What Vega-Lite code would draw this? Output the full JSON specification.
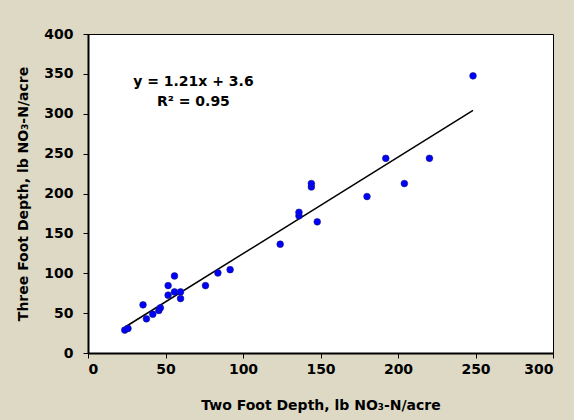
{
  "$schema": "https://vega.github.io/schema/vega-lite/v6.json",
  "width": 465,
  "height": 319,
  "autosize": {"type": "none"},
  "padding": {"left": 88, "top": 34, "right": 21, "bottom": 67},
  "background": "#DDD9C4",
  "config": {
    "view": {"fill": "white", "stroke": "black", "strokeWidth": 1},
    "font": "DejaVu Sans",
    "axis": {
      "grid": false,
      "domainColor": "black",
      "domainWidth": 2,
      "tickColor": "black",
      "tickWidth": 1,
      "tickSize": 5,
      "labelFont": "DejaVu Sans",
      "labelFontSize": 14,
      "labelFontWeight": "bold",
      "labelColor": "black",
      "titleFont": "DejaVu Sans",
      "titleFontSize": 14,
      "titleFontWeight": "bold",
      "titleColor": "black"
    }
  },
  "datasets": {
    "points": [
      {"two": 23.7, "three": 28.7},
      {"two": 25.8, "three": 30.8},
      {"two": 35.5, "three": 60.4},
      {"two": 37.7, "three": 42.9},
      {"two": 41.8, "three": 48.7},
      {"two": 45.7, "three": 53.3},
      {"two": 46.7, "three": 56.6},
      {"two": 51.7, "three": 72.5},
      {"two": 51.7, "three": 84.5},
      {"two": 55.8, "three": 96.6},
      {"two": 55.8, "three": 76.6},
      {"two": 59.7, "three": 76.6},
      {"two": 59.7, "three": 68.3},
      {"two": 75.8, "three": 84.5},
      {"two": 83.8, "three": 100.4},
      {"two": 91.7, "three": 104.5},
      {"two": 124.0, "three": 136.4},
      {"two": 136.1, "three": 172.0},
      {"two": 136.1, "three": 176.4},
      {"two": 144.1, "three": 208.3},
      {"two": 144.1, "three": 212.5},
      {"two": 147.9, "three": 164.5},
      {"two": 180.0, "three": 196.2},
      {"two": 192.1, "three": 244.1},
      {"two": 204.1, "three": 212.5},
      {"two": 220.3, "three": 244.1},
      {"two": 248.4, "three": 347.5}
    ],
    "trend": [
      {"two": 23.7, "three": 32.3},
      {"two": 248.4, "three": 304.2}
    ],
    "labels": [
      {"two": 68, "three": 339.5, "text": "y = 1.21x + 3.6"},
      {"two": 68, "three": 314.5, "text": "R² = 0.95"}
    ]
  },
  "encoding": {
    "x": {
      "field": "two", "type": "quantitative",
      "scale": {"domain": [0, 300], "nice": false, "zero": false},
      "axis": {"values": [0, 50, 100, 150, 200, 250, 300], "labelOverlap": false, "labelPadding": 4, "titlePadding": 22, "title": "Two Foot Depth, lb NO₃-N/acre"}
    },
    "y": {
      "field": "three", "type": "quantitative",
      "scale": {"domain": [0, 400], "nice": false, "zero": false},
      "axis": {"tickCount": 8, "labelOverlap": false, "labelPadding": 10, "titlePadding": 13, "title": "Three Foot Depth, lb NO₃-N/acre"}
    }
  },
  "layer": [
    {
      "data": {"name": "trend"},
      "mark": {"type": "line", "color": "black", "strokeWidth": 1.5}
    },
    {
      "data": {"name": "points"},
      "mark": {"type": "point", "filled": true, "shape": "circle", "size": 45, "color": "#0000FF", "opacity": 1, "stroke": "#1a1a6e", "strokeWidth": 0.6}
    },
    {
      "data": {"name": "labels"},
      "mark": {"type": "text", "font": "DejaVu Sans", "fontSize": 14, "fontWeight": "bold", "color": "black", "align": "center", "baseline": "middle"},
      "encoding": {
        "text": {"field": "text"}
      }
    }
  ]
}
